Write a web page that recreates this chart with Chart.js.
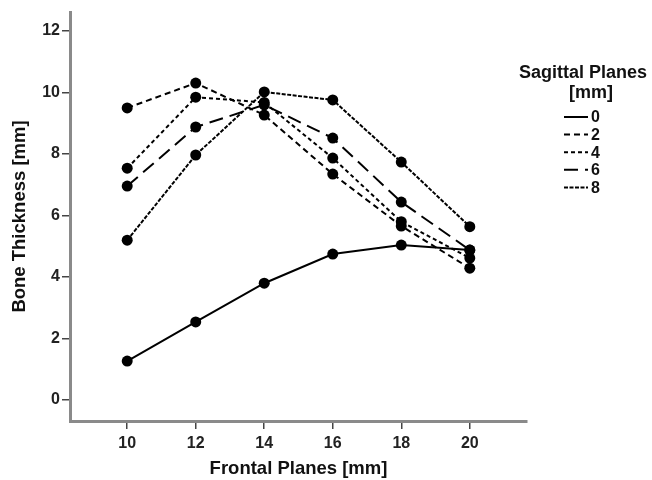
<!DOCTYPE html>
<html>
<head>
<meta charset="utf-8">
<script src="https://cdn.jsdelivr.net/npm/chart.js@4/dist/chart.umd.min.js"></script>
<style>
  html, body { margin: 0; padding: 0; background: #fff; }
</style>
</head>
<body>
<canvas id="boneChart" width="652" height="480"></canvas>
<script>
// frontal planes on the x axis
var frontalPlanes = [10, 12, 14, 16, 18, 20];
// bone thickness per sagittal plane
var sag0 = [1.27, 2.54, 3.80, 4.75, 5.04, 4.88];
var sag2 = [9.50, 10.31, 9.27, 7.35, 5.66, 4.29];
var sag4 = [7.54, 9.85, 9.68, 7.87, 5.80, 4.62];
var sag6 = [6.96, 8.88, 9.60, 8.52, 6.44, 4.88];
var sag8 = [5.20, 7.97, 10.02, 9.76, 7.74, 5.64];
var sagLabels = ["0", "2", "4", "6", "8"];
var xTicks = [10, 12, 14, 16, 18, 20];
var yTicks = [0, 2, 4, 6, 8, 10, 12];

var fontFam = 'Arial, "Liberation Sans", sans-serif';

function pts(arr) {
    return arr.map(function (v, i) { return { x: frontalPlanes[i], y: v }; });
}

function makeSet(label, arr, dash) {
    return {
        label: label,
        data: pts(arr),
        borderColor: "#000",
        backgroundColor: "#000",
        borderWidth: 2,
        borderDash: dash,
        pointRadius: 5.5,
        pointBorderWidth: 0,
        pointBackgroundColor: "#000",
        tension: 0,
        fill: false
    };
}

//legend drawn by hand so the title can wrap over two lines
var sideLegend = {
    id: "sideLegend",
    afterDraw: function (chart) {
        var ctx = chart.ctx;
        ctx.save();
        ctx.fillStyle = "#111";
        ctx.font = "bold 18px " + fontFam;
        ctx.textAlign = "center";
        ctx.textBaseline = "middle";
        ctx.fillText("Sagittal Planes", 583, 73);
        ctx.fillText("[mm]", 591, 93);
        ctx.font = "bold 16px " + fontFam;
        ctx.textAlign = "left";
        chart.data.datasets.forEach(function (ds, i) {
            var y = 117 + i * 17.6;
            ctx.strokeStyle = "#000";
            ctx.lineWidth = 2;
            ctx.setLineDash(ds.borderDash || []);
            ctx.beginPath();
            ctx.moveTo(564, y);
            ctx.lineTo(588, y);
            ctx.stroke();
            ctx.setLineDash([]);
            ctx.fillText(ds.label, 591, y + 1);
        });
        ctx.restore();
    }
};

var ctx = document.getElementById("boneChart");
var boneChart = new Chart(ctx, {
    type: "line",
    data: {
        datasets: [
            makeSet(sagLabels[0], sag0, []),
            makeSet(sagLabels[1], sag2, [6, 4]),
            makeSet(sagLabels[2], sag4, [4, 3]),
            makeSet(sagLabels[3], sag6, [14, 7]),
            makeSet(sagLabels[4], sag8, [4, 1.5])
        ]
    },
    options: {
        responsive: false,
        animation: false,
        layout: { padding: { left: 0, right: 125, top: 12, bottom: 0 } },
        plugins: {
            legend: { display: false },
            tooltip: { enabled: false }
        },
        scales: {
            x: {
                type: "linear",
                min: 8.33,
                max: 21.67,
                afterBuildTicks: function (scale) {
                    scale.ticks = xTicks.map(function (v) { return { value: v }; });
                },
                afterFit: function (scale) { scale.height = 59; },
                grid: { drawOnChartArea: false, drawTicks: true, tickLength: 8, color: "#444", lineWidth: 1.5 },
                border: { display: true, color: "#8a8a8a", width: 3 },
                ticks: { color: "#222", font: { family: fontFam, size: 16, weight: "bold" }, padding: 5, maxRotation: 0 },
                title: {
                    display: true,
                    text: "Frontal Planes [mm]",
                    color: "#111",
                    font: { family: fontFam, size: 18.5, weight: "bold" },
                    padding: { top: 0, bottom: 0 }
                }
            },
            y: {
                min: -0.68,
                max: 12.62,
                afterBuildTicks: function (scale) {
                    scale.ticks = yTicks.map(function (v) { return { value: v }; });
                },
                afterFit: function (scale) { scale.width = 70; },
                grid: { drawOnChartArea: false, drawTicks: true, tickLength: 8, color: "#444", lineWidth: 1.5 },
                border: { display: true, color: "#8a8a8a", width: 3 },
                ticks: { color: "#222", font: { family: fontFam, size: 16, weight: "bold" }, padding: 2 },
                title: {
                    display: true,
                    text: "Bone Thickness [mm]",
                    color: "#111",
                    font: { family: fontFam, size: 18.5, weight: "bold" },
                    padding: { top: 9, bottom: 0 }
                }
            }
        }
    },
    plugins: [sideLegend]
});
</script>
</body>
</html>
